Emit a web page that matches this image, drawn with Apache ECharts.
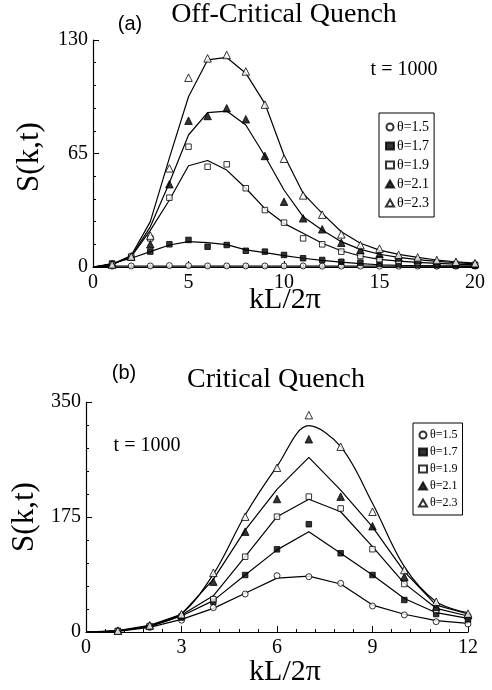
<!DOCTYPE html>
<html>
<head>
<meta charset="utf-8">
<title>S(k,t) quench</title>
<script src="https://cdn.jsdelivr.net/npm/echarts@6/dist/echarts.min.js"></script>
<style>
  html, body { margin: 0; padding: 0; background: #fff; }
  #chart { width: 492px; height: 690px; }
</style>
</head>
<body>
<div id="chart"></div>
<script>
// panel (a) : off-critical quench, kL/2pi = 0..20
var kA = [0,1,2,3,4,5,6,7,8,9,10,11,12,13,14,15,16,17,18,19,20];
var a15 = [0,0.5,0.6,0.6,0.8,0.8,0.6,0.6,0.6,0.6,0.6,0.6,0.5,0.5,0.5,0.5,0.5,0.5,0.5,0.5,0.5];
var a17 = [0,2,5.5,8.8,13,15.5,11.6,12.6,9.3,8.8,6.9,5,4,3,2.5,1.9,1.5,1.2,1,0.8,0.7];
var a19 = [0,1.5,6,16.4,39.7,68.9,57.4,58.8,45.1,32.6,25.4,16.4,13,8.8,6.3,4.4,3.5,2.8,2.2,1.7,1.3];
var a21 = [0,1.5,6,13,47.4,83.8,86.5,90.9,84.6,63.6,37.4,27.9,21.6,13.9,9.7,7.5,5.5,4.2,3.2,2.5,1.8];
var a23 = [0,1.5,6,18,56.5,108.4,119.5,121.4,112,93,62,41,30,18.7,12.6,10.5,7,5.5,4,3,2.2];
// curves drawn through panel (a)
var la15 = [0,0.5,0.5,0.5,0.5,0.5,0.5,0.5,0.5,0.5,0.5,0.5,0.5,0.5,0.5,0.5,0.5,0.5,0.5,0.5,0.5];
var la17 = [0,2,5,8.8,12.6,14.5,14,12.8,9.8,8.2,6.5,5,3.8,2.8,1.9,1.3,1,0.8,0.6,0.5,0.4];
var la19 = [0,1.5,6,21,38.4,58,61,55.5,45.1,33.4,25,19.3,13.6,9.3,6.3,4.4,3.4,2.7,2.1,1.6,1.2];
var la21 = [0,1.5,6,23,48.3,75.6,88.4,89.3,81.3,63.6,44.1,28.8,21.2,14.5,10.1,7.3,5.5,4.2,3.2,2.5,1.8];
var la23 = [0,1.5,6.5,26,62.5,97.5,118.6,120,111,93.6,64,42.2,30.7,20.2,13.6,9.7,7.2,5.5,4,3,2.2];

// panel (b) : critical quench, kL/2pi = 0..12
var kB = [0,1,2,3,4,5,6,7,8,9,10,11,12];
var b15 = [0,1,7,18,37,57.8,85.7,84.2,74,39.6,26,15.7,12.2];
var b17 = [0,1.5,8,22,46.1,86.7,125.8,164,119.8,86.7,48.7,27.4,19.3];
var b19 = [0,1.5,9,24,50,114.6,175.5,206,188,126,73,33.5,23];
var b21 = [0,2,10,26,76.6,152.7,202.4,293.3,206,161,84,38.5,26];
var b23 = [0,2,10,27,90,175.5,250,330,282,183,94.4,46,28];
var lb15 = [0,1,7,19.3,36,58.9,82,85,73,41,27,17.2,13.2];
var lb17 = [0,1.5,8,24.4,47.7,86.7,125,152.7,119.8,86.7,51,29.4,20.8];
var lb19 = [0,1.5,9,26,55,114.6,175.5,202,183,130,74,36,24.4];
var lb21 = [0,2,10,27,80,155,217,265.8,216,160,91.8,41,27.4];
var lb23 = [0,2,10,28,88,178,252,314,282,196,99.4,46,29.4];

var names = ['θ=1.5','θ=1.7','θ=1.9','θ=2.1','θ=2.3'];
var yTicksA = [0, 65, 130];
var yTicksB = [0, 175, 350];

var SERIF = 'Liberation Serif';
// marker look per theta: symbol, filled?
var marks = [
  {symbol:'circle', fill:false},
  {symbol:'rect', fill:true},
  {symbol:'rect', fill:false},
  {symbol:'triangle', fill:true},
  {symbol:'triangle', fill:false}
];

function pairs(xs, ys, from) {
  var out = [];
  for (var i = from || 0; i < xs.length; i++) out.push([xs[i], ys[i]]);
  return out;
}

var series = [];
function addPanel(idx, xs, pts, curves, size, smoothTop) {
  for (var i = 0; i < 5; i++) {
    series.push({
      name: 'curve' + idx + i,
      type: 'line',
      xAxisIndex: idx, yAxisIndex: idx,
      data: pairs(xs, curves[i]),
      showSymbol: false,
      smooth: (smoothTop && i == 4) ? 0.35 : false,
      lineStyle: {color:'#000', width:1.2},
      z: 2,
      silent: true
    });
  }
  for (var j = 0; j < 5; j++) {
    series.push({
      name: names[j],
      type: 'scatter',
      xAxisIndex: idx, yAxisIndex: idx,
      data: pairs(xs, pts[j], 1),   // no marker drawn at k=0
      symbol: marks[j].symbol,
      symbolSize: marks[j].symbol == 'triangle' ? size + 1.5 : (marks[j].symbol == 'rect' ? size - 0.5 : size),
      itemStyle: {
        color: marks[j].fill ? '#000' : '#fff',
        borderColor: '#000',
        borderWidth: 1
      },
      z: 3
    });
  }
}
addPanel(0, kA, [a15,a17,a19,a21,a23], [la15,la17,la19,la21,la23], 6, false);
addPanel(1, kB, [b15,b17,b19,b21,b23], [lb15,lb17,lb19,lb21,lb23], 6, true);

function xAxisOf(idx, max, step) {
  return {
    gridIndex: idx, type:'value', min:0, max:max, interval:step,
    axisLine: {lineStyle:{color:'#000', width:1.2}},
    axisTick: {inside:true, length:6, lineStyle:{color:'#000'}},
    minorTick: {show:true, splitNumber:5, length:3, lineStyle:{color:'#000'}},
    splitLine: {show:false},
    axisLabel: {color:'#000', fontFamily:SERIF, fontSize:20, margin:6, showMinLabel:true, showMaxLabel:true}
  };
}
function yAxisOf(idx, ticks) {
  return {
    gridIndex: idx, type:'value', min:ticks[0], max:ticks[2], interval:ticks[1],
    axisLine: {show:true, lineStyle:{color:'#000', width:1.2}},
    axisTick: {show:true, inside:true, length:6, lineStyle:{color:'#000'}},
    minorTick: {show:true, splitNumber:5, length:3, lineStyle:{color:'#000'}},
    splitLine: {show:false},
    axisLabel: {color:'#000', fontFamily:SERIF, fontSize:20, margin:5, showMinLabel:true, showMaxLabel:true}
  };
}

function legendOf(left, top, size, gap, pad) {
  return {
    data: names,
    orient: 'vertical',
    left: left, top: top,
    backgroundColor: '#fff',
    borderColor: '#000', borderWidth: 1,
    padding: pad,
    itemGap: gap,
    itemWidth: 8, itemHeight: 7,
    selectedMode: false,
    textStyle: {color:'#000', fontFamily:SERIF, fontSize:size, padding:[0,0,0,-2]}
  };
}

function txt(x, y, s, font, rot) {
  return {
    type:'text', x:x, y:y, rotation: rot || 0,
    style:{text:s, font:font, fill:'#000', align:'center', verticalAlign:'middle'}
  };
}

var chart = echarts.init(document.getElementById('chart'));
chart.setOption({
  animation: false,
  backgroundColor: '#fff',
  grid: [
    {left:93, top:40, width:382, height:227},
    {left:86, top:402, width:382, height:230}
  ],
  xAxis: [xAxisOf(0, 20, 5), xAxisOf(1, 12, 3)],
  yAxis: [yAxisOf(0, yTicksA), yAxisOf(1, yTicksB)],
  legend: [
    legendOf(379, 113, 14, 5, [7,5,7,6]),
    legendOf(413, 423, 12, 5, [6,5,6,5])
  ],
  graphic: [
    txt(284, 15, 'Off-Critical Quench', '28px "Liberation Serif"'),
    txt(130, 24, '(a)', '20px "Liberation Sans"'),
    txt(404, 70, 't = 1000', '20px "Liberation Serif"'),
    txt(285, 300, 'kL/2π', '30px "Liberation Serif"'),
    txt(30, 157, 'S(k,t)', '31px "Liberation Serif"', Math.PI/2),
    txt(276, 380, 'Critical Quench', '28px "Liberation Serif"'),
    txt(124, 373, '(b)', '20px "Liberation Sans"'),
    txt(147, 446, 't = 1000', '20px "Liberation Serif"'),
    txt(285, 672, 'kL/2π', '30px "Liberation Serif"'),
    txt(25, 517, 'S(k,t)', '31px "Liberation Serif"', Math.PI/2)
  ],
  series: series
});
</script>
</body>
</html>
